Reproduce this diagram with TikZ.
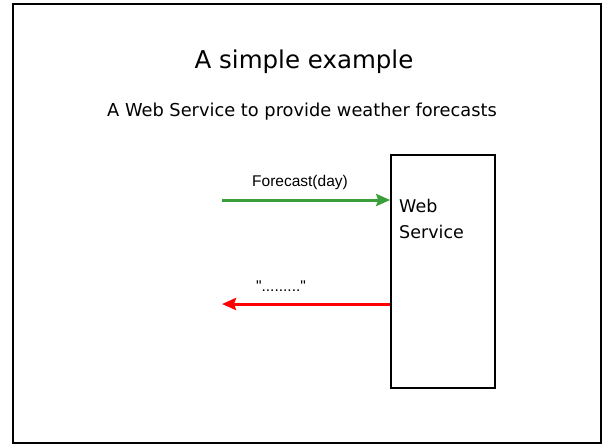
\documentclass[tikz,border=0pt]{standalone}
\usepackage{fontspec}
\setmainfont{DejaVu Sans}
\newfontfamily\labelfont{Liberation Sans}
\usepackage{tikz}
\usepackage{xcolor}
\usetikzlibrary{shapes, positioning, calc}
\usetikzlibrary{arrows.meta}

\definecolor{askgreen}{RGB}{58,158,58}
\definecolor{replyred}{RGB}{255,0,0}

\begin{document}
\begin{tikzpicture}[x=1pt, y=-1pt]
        \useasboundingbox (0,0) rectangle (604,445);
        \draw[line width=2.6pt] (13,4) rectangle (601,443);

        \node (title) at (304,62) {\fontsize{24.5}{28}\selectfont A simple example};
        \node (sub) at (302,112) {\fontsize{17.8}{21}\selectfont A Web Service to provide weather forecasts};

        \node[draw, line width=1.6pt, minimum width=104pt, minimum height=233pt, inner sep=0pt] (ws) at (443,271.5) {};
        \node[anchor=north west, align=left, inner sep=0pt, font=\fontsize{17.5}{26}\selectfont] (wst) at (399,199) {Web\\Service};

        \node (ask) at (300,182) {\labelfont\fontsize{15.5}{18}\selectfont Forecast(day)};
        \node (ans) at (281,286) {\labelfont\fontsize{15.5}{18}\selectfont "........."};

        \coordinate (a) at (222,200);
        \coordinate (b) at (222,304);

        \draw[-{Stealth[length=14pt, width=12pt, inset=2pt]}, askgreen, line width=3pt] (a) -- (a -| ws.west);
        \draw[-{Stealth[length=14pt, width=12pt, inset=2pt]}, replyred, line width=3pt] (b -| ws.west) -- (b);
    \end{tikzpicture}
\end{document}
